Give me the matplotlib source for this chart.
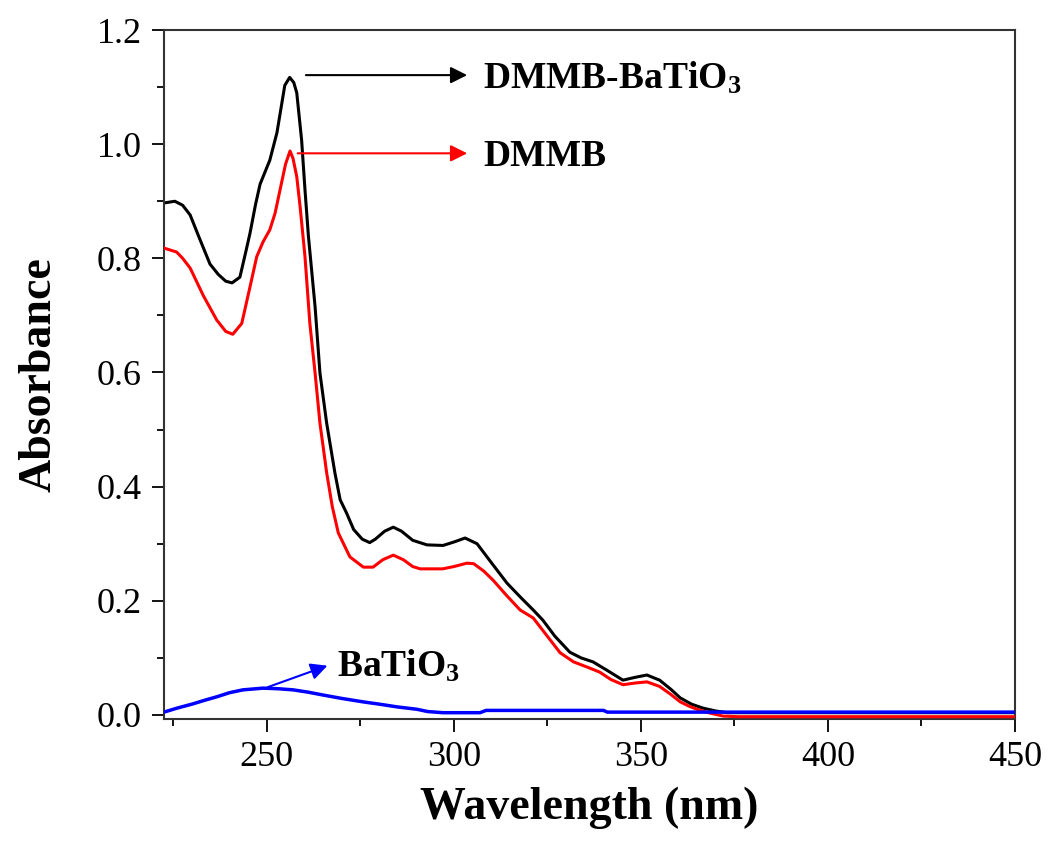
import matplotlib
matplotlib.use("Agg")
import matplotlib.pyplot as plt
from matplotlib.ticker import MultipleLocator

plt.rcParams['font.family'] = ['Liberation Serif', 'DejaVu Serif']
plt.rcParams['mathtext.fontset'] = 'custom'
plt.rcParams['mathtext.rm'] = 'Liberation Serif'
plt.rcParams['mathtext.bf'] = 'Liberation Serif:bold'
plt.rcParams['mathtext.default'] = 'bf'

# ------------------ Data ------------------
wl_hybrid = [222.5, 225.4, 227.5, 229.5, 232, 234.8, 237, 239, 240.7, 242.8,
             244.5, 245.5, 247, 248.2, 250.8, 252.7, 254.8, 256.1, 257.2, 258,
             259.3, 260.2, 261.1, 262.9, 264.2, 266, 268.2, 269.6, 271.3, 273.2,
             275.5, 277.5, 279, 281.5, 283.8, 286, 289, 292.8, 297.1, 300,
             303, 306.2, 310, 314.2, 318, 321.2, 323.8, 327, 331, 334,
             337.2, 341, 345.2, 348.5, 351.6, 355, 358, 360.5, 363.5, 366.6,
             370, 373, 450]
abs_hybrid = [0.897, 0.900, 0.893, 0.876, 0.835, 0.790, 0.772, 0.760, 0.757, 0.767,
              0.815, 0.844, 0.895, 0.930, 0.972, 1.020, 1.103, 1.117, 1.108, 1.090,
              1.007, 0.920, 0.840, 0.715, 0.599, 0.511, 0.424, 0.377, 0.354, 0.325,
              0.308, 0.302, 0.308, 0.322, 0.329, 0.322, 0.306, 0.298, 0.297, 0.303,
              0.310, 0.300, 0.267, 0.231, 0.205, 0.184, 0.166, 0.138, 0.110, 0.100,
              0.093, 0.078, 0.061, 0.066, 0.070, 0.061, 0.045, 0.030, 0.019, 0.012,
              0.007, 0.004, 0.004]

wl_dmmb = [222.5, 225.9, 227.5, 229.5, 233, 236.6, 239, 240.9, 243.3, 245.5,
           247.3, 249, 250.8, 252.2, 253.5, 255, 256.2, 257, 258, 258.9,
           260.2, 261.5, 262.9, 264.2, 266, 267.5, 269.1, 272.2, 275.8, 278.4,
           281, 283.8, 286.5, 289, 291, 297, 300, 303.5, 305.3, 308,
           310.5, 314, 317.7, 321.2, 324.5, 328.4, 332, 335.6, 339, 342,
           345.2, 348.5, 351.6, 355, 358, 360.5, 363, 365, 368, 372,
           376, 450]
abs_dmmb = [0.818, 0.811, 0.800, 0.783, 0.735, 0.692, 0.672, 0.667, 0.686, 0.750,
            0.803, 0.829, 0.850, 0.879, 0.919, 0.965, 0.988, 0.975, 0.943, 0.890,
            0.803, 0.686, 0.599, 0.511, 0.424, 0.365, 0.319, 0.277, 0.259, 0.259,
            0.272, 0.280, 0.272, 0.260, 0.256, 0.256, 0.260, 0.266, 0.265, 0.252,
            0.236, 0.210, 0.184, 0.170, 0.142, 0.109, 0.093, 0.084, 0.075, 0.062,
            0.053, 0.056, 0.058, 0.050, 0.036, 0.023, 0.015, 0.010, 0.004, -0.002,
            -0.003, -0.003]

wl_bto = [222.5, 226, 230, 233.5, 236.7, 240, 243.6, 249, 253, 257,
          261, 265, 270, 275.7, 280, 285, 290.1, 293, 297.1, 307,
          308.6, 340, 341, 450]
abs_bto = [0.005, 0.012, 0.019, 0.026, 0.032, 0.039, 0.044, 0.047, 0.046, 0.044,
           0.040, 0.035, 0.029, 0.023, 0.019, 0.014, 0.010, 0.006, 0.004, 0.004,
           0.008, 0.008, 0.005, 0.005]

x_ticks = [250, 300, 350, 400, 450]
y_ticks = [0.0, 0.2, 0.4, 0.6, 0.8, 1.0, 1.2]

# ------------------ Plot ------------------
fig = plt.figure(figsize=(10.49, 8.41), dpi=100)
ax = fig.add_axes([0.1563, 0.1451, 0.8113, 0.8192])

ax.plot(wl_hybrid, abs_hybrid, color='black', lw=2.2, zorder=2)
ax.plot(wl_dmmb, abs_dmmb, color='red', lw=2.2, zorder=3)
ax.plot(wl_bto, abs_bto, color='blue', lw=2.5, zorder=4)

ax.set_xlim(222.5, 450)
ax.set_ylim(-0.007, 1.2)
ax.set_xticks(x_ticks)
ax.set_yticks(y_ticks)
ax.set_yticklabels([f"{v:.1f}" for v in y_ticks])
ax.xaxis.set_minor_locator(MultipleLocator(25))
ax.yaxis.set_minor_locator(MultipleLocator(0.1))
ax.tick_params(which='major', direction='out', length=9, width=1.3,
               labelsize=26, pad=7)
ax.tick_params(which='minor', direction='out', length=5, width=1.3)
ax.tick_params(top=False, right=False, which='both')
for s in ax.spines.values():
    s.set_linewidth(1.5)
    s.set_color('#333333')

ax.set_xlabel("Wavelength (nm)", fontsize=33, fontweight='bold', labelpad=9)
ax.set_ylabel("Absorbance", fontsize=33, fontweight='bold', labelpad=26)

# arrows with labels
arrow_kw = dict(arrowstyle='-|>', mutation_scale=25, lw=1.5)
ax.annotate('', xy=(304.3, 1.121), xytext=(259.7, 1.121),
            arrowprops=dict(color='black', **arrow_kw))
ax.text(307.8, 1.115, r'DMMB-BaTiO$_3$', fontsize=27, fontweight='bold',
        va='center', ha='left')
ax.annotate('', xy=(304.3, 0.984), xytext=(257.5, 0.984),
            arrowprops=dict(color='red', **arrow_kw))
ax.text(307.8, 0.978, 'DMMB', fontsize=27, fontweight='bold',
        va='center', ha='left')
ax.annotate('', xy=(266.9, 0.088), xytext=(249.5, 0.047),
            arrowprops=dict(color='blue', **arrow_kw))
ax.text(268.8, 0.085, r'BaTiO$_3$', fontsize=27, fontweight='bold',
        va='center', ha='left')

fig.savefig("out.png", dpi=100)
plt.close()
